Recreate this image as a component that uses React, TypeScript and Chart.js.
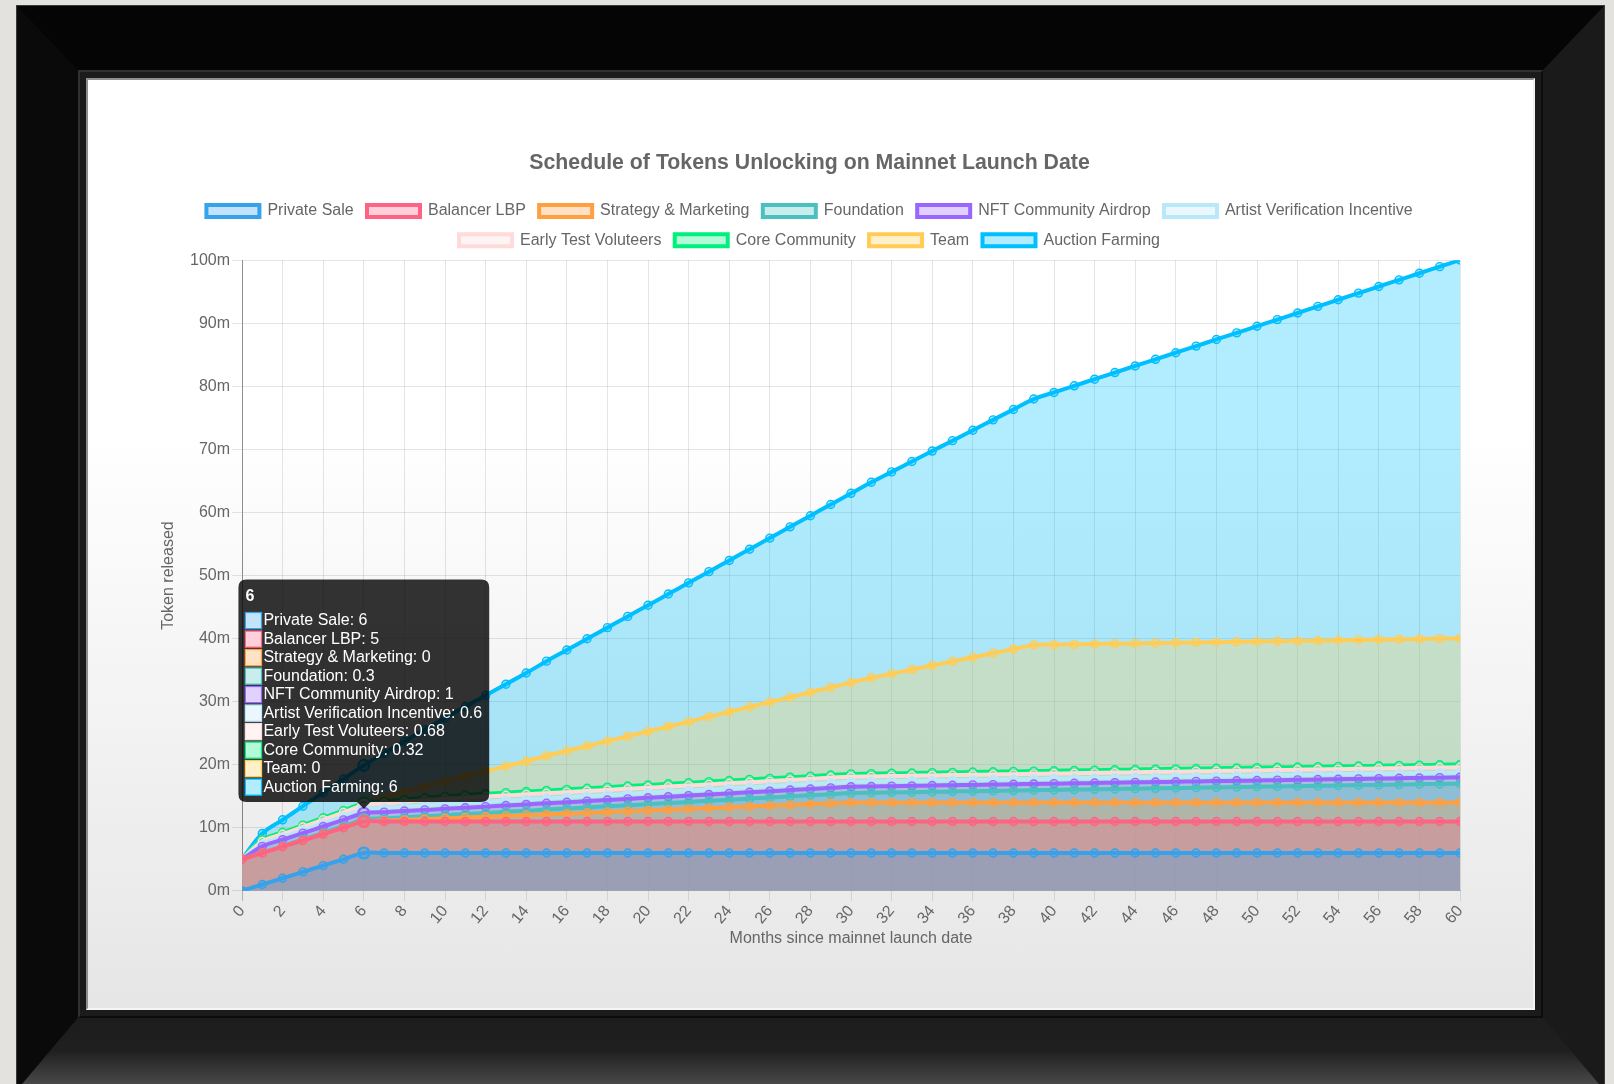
import React, { useEffect, useRef } from "react";
import { Chart, registerables } from "chart.js";

Chart.register(...registerables);

// ---------- data (values in millions of tokens, per series, stacked) ----------
const months = [
  0, 1, 2, 3, 4, 5, 6, 7, 8, 9,
  10, 11, 12, 13, 14, 15, 16, 17, 18, 19,
  20, 21, 22, 23, 24, 25, 26, 27, 28, 29,
  30, 31, 32, 33, 34, 35, 36, 37, 38, 39,
  40, 41, 42, 43, 44, 45, 46, 47, 48, 49,
  50, 51, 52, 53, 54, 55, 56, 57, 58, 59,
  60,
];

const seriesNames = [
  "Private Sale",
  "Balancer LBP",
  "Strategy & Marketing",
  "Foundation",
  "NFT Community Airdrop",
  "Artist Verification Incentive",
  "Early Test Voluteers",
  "Core Community",
  "Team",
  "Auction Farming",
];

const privateSale = [
  0, 1, 2, 3, 4, 5, 6, 6, 6, 6,
  6, 6, 6, 6, 6, 6, 6, 6, 6, 6,
  6, 6, 6, 6, 6, 6, 6, 6, 6, 6,
  6, 6, 6, 6, 6, 6, 6, 6, 6, 6,
  6, 6, 6, 6, 6, 6, 6, 6, 6, 6,
  6, 6, 6, 6, 6, 6, 6, 6, 6, 6,
  6,
];

const balancerLBP = [
  5, 5, 5, 5, 5, 5, 5, 5, 5, 5,
  5, 5, 5, 5, 5, 5, 5, 5, 5, 5,
  5, 5, 5, 5, 5, 5, 5, 5, 5, 5,
  5, 5, 5, 5, 5, 5, 5, 5, 5, 5,
  5, 5, 5, 5, 5, 5, 5, 5, 5, 5,
  5, 5, 5, 5, 5, 5, 5, 5, 5, 5,
  5,
];

const strategyMarketing = [
  0, 0, 0, 0, 0, 0, 0, 0.13, 0.25, 0.38,
  0.5, 0.63, 0.75, 0.88, 1, 1.13, 1.25, 1.38, 1.5, 1.63,
  1.75, 1.88, 2, 2.13, 2.25, 2.38, 2.5, 2.63, 2.75, 2.88,
  3, 3, 3, 3, 3, 3, 3, 3, 3, 3,
  3, 3, 3, 3, 3, 3, 3, 3, 3, 3,
  3, 3, 3, 3, 3, 3, 3, 3, 3, 3,
  3,
];

const foundation = [
  0, 0.05, 0.1, 0.15, 0.2, 0.25, 0.3, 0.35, 0.4, 0.45,
  0.5, 0.55, 0.6, 0.65, 0.7, 0.75, 0.8, 0.85, 0.9, 0.95,
  1, 1.05, 1.1, 1.15, 1.2, 1.25, 1.3, 1.35, 1.4, 1.45,
  1.5, 1.55, 1.6, 1.65, 1.7, 1.75, 1.8, 1.85, 1.9, 1.95,
  2, 2.05, 2.1, 2.15, 2.2, 2.25, 2.3, 2.35, 2.4, 2.45,
  2.5, 2.55, 2.6, 2.65, 2.7, 2.75, 2.8, 2.85, 2.9, 2.95,
  3,
];

const nftCommunityAirdrop = [
  0, 1, 1, 1, 1, 1, 1, 1, 1, 1,
  1, 1, 1, 1, 1, 1, 1, 1, 1, 1,
  1, 1, 1, 1, 1, 1, 1, 1, 1, 1,
  1, 1, 1, 1, 1, 1, 1, 1, 1, 1,
  1, 1, 1, 1, 1, 1, 1, 1, 1, 1,
  1, 1, 1, 1, 1, 1, 1, 1, 1, 1,
  1,
];

const artistVerification = [
  0, 0.35, 0.4, 0.45, 0.5, 0.55, 0.6, 0.65, 0.7, 0.75,
  0.8, 0.8, 0.8, 0.8, 0.8, 0.8, 0.8, 0.8, 0.8, 0.8,
  0.8, 0.8, 0.8, 0.8, 0.8, 0.8, 0.8, 0.8, 0.8, 0.8,
  0.8, 0.8, 0.8, 0.8, 0.8, 0.8, 0.8, 0.8, 0.8, 0.8,
  0.8, 0.8, 0.8, 0.8, 0.8, 0.8, 0.8, 0.8, 0.8, 0.8,
  0.8, 0.8, 0.8, 0.8, 0.8, 0.8, 0.8, 0.8, 0.8, 0.8,
  0.8,
];

const earlyTestVolunteers = [
  0, 0.43, 0.48, 0.53, 0.58, 0.63, 0.68, 0.72, 0.76, 0.8,
  0.8, 0.8, 0.8, 0.8, 0.8, 0.8, 0.8, 0.8, 0.8, 0.8,
  0.8, 0.8, 0.8, 0.8, 0.8, 0.8, 0.8, 0.8, 0.8, 0.8,
  0.8, 0.8, 0.8, 0.8, 0.8, 0.8, 0.8, 0.8, 0.8, 0.8,
  0.8, 0.8, 0.8, 0.8, 0.8, 0.8, 0.8, 0.8, 0.8, 0.8,
  0.8, 0.8, 0.8, 0.8, 0.8, 0.8, 0.8, 0.8, 0.8, 0.8,
  0.8,
];

const coreCommunity = [
  0, 0.27, 0.28, 0.29, 0.3, 0.31, 0.32, 0.34, 0.36, 0.38,
  0.4, 0.42, 0.44, 0.44, 0.44, 0.44, 0.44, 0.44, 0.44, 0.44,
  0.44, 0.44, 0.44, 0.44, 0.44, 0.44, 0.44, 0.44, 0.44, 0.44,
  0.44, 0.44, 0.44, 0.44, 0.44, 0.44, 0.44, 0.44, 0.44, 0.44,
  0.44, 0.44, 0.44, 0.44, 0.44, 0.44, 0.44, 0.44, 0.44, 0.44,
  0.44, 0.44, 0.44, 0.44, 0.44, 0.44, 0.44, 0.44, 0.44, 0.44,
  0.44,
];

const team = [
  0, 0, 0, 0, 0, 0, 0, 0.6, 1.2, 1.8,
  2.4, 3, 3.6, 4.2, 4.8, 5.5, 6.1, 6.7, 7.3, 7.9,
  8.5, 9.1, 9.7, 10.3, 10.9, 11.5, 12.1, 12.7, 13.3, 13.9,
  14.5, 15.2, 15.8, 16.4, 17, 17.6, 18.2, 18.8, 19.4, 20,
  20, 20, 20, 20, 20, 20, 20, 20, 20, 20,
  20, 20, 20, 20, 20, 20, 20, 20, 20, 20,
  20,
];

const auctionFarming = [
  0, 1, 2, 3, 4, 5, 6, 7, 8, 9,
  10, 11, 12, 13, 14, 15, 16, 17, 18, 19,
  20, 21, 22, 23, 24, 25, 26, 27, 28, 29,
  30, 31, 32, 33, 34, 35, 36, 37, 38, 39,
  40, 41, 42, 43, 44, 45, 46, 47, 48, 49,
  50, 51, 52, 53, 54, 55, 56, 57, 58, 59,
  60,
];

const hoveredMonthIndex = 6;

// ---------- styles ----------
const seriesColors: [number, number, number][] = [
  [54, 162, 235],
  [255, 99, 132],
  [255, 159, 64],
  [75, 192, 192],
  [153, 102, 255],
  [185, 232, 250],
  [255, 218, 218],
  [0, 240, 125],
  [255, 205, 86],
  [0, 191, 255],
];

const FONT = "'Liberation Sans', Arial, Helvetica, sans-serif";

const rgb = (c: [number, number, number]) => `rgb(${c[0]}, ${c[1]}, ${c[2]})`;
const rgba = (c: [number, number, number], a: number) =>
  `rgba(${c[0]}, ${c[1]}, ${c[2]}, ${a})`;

function TokenChart() {
  const canvasRef = useRef<HTMLCanvasElement | null>(null);

  useEffect(() => {
    const canvas = canvasRef.current;
    if (!canvas) return;

    Chart.defaults.font.family = FONT;
    Chart.defaults.color = "#666";

    const seriesValues = [
      privateSale,
      balancerLBP,
      strategyMarketing,
      foundation,
      nftCommunityAirdrop,
      artistVerification,
      earlyTestVolunteers,
      coreCommunity,
      team,
      auctionFarming,
    ];

    const datasets = seriesValues.map((values, i) => {
      const c = seriesColors[i];
      return {
        label: seriesNames[i],
        data: values,
        borderColor: rgb(c),
        backgroundColor: rgba(c, 0.3),
        fill: "origin",
        borderWidth: 4,
        tension: 0.4,
        pointRadius: 4,
        pointBorderWidth: 1.4,
        pointBackgroundColor: rgba(c, 0.3),
        pointBorderColor: rgb(c),
        pointHoverRadius: 5.5,
        pointHoverBorderWidth: 2.2,
        pointHoverBackgroundColor: rgba(c, 0.3),
        pointHoverBorderColor: rgb(c),
      };
    });

    const chart = new Chart(canvas, {
      type: "line",
      data: { labels: months, datasets: datasets as any },
      options: {
        responsive: false,
        animation: false,
        devicePixelRatio: 1,
        layout: { padding: { top: 57.5, left: 71, right: 73, bottom: 56 } },
        interaction: { mode: "index", intersect: false },
        plugins: {
          title: {
            display: true,
            text: "Schedule of Tokens Unlocking on Mainnet Launch Date",
            color: "#666",
            font: { family: FONT, size: 21.3, weight: "bold" },
            padding: { top: 13.3, bottom: 13.3 },
          },
          legend: {
            display: true,
            labels: {
              color: "#666",
              font: { family: FONT, size: 16 },
              boxWidth: 53,
              boxHeight: 12,
              padding: 13.3,
            },
          },
          tooltip: {
            enabled: true,
            mode: "index",
            intersect: false,
            position: "average",
            xAlign: "center",
            yAlign: "bottom",
            backgroundColor: "rgba(0,0,0,0.8)",
            titleColor: "#fff",
            titleFont: { family: FONT, size: 16, weight: "bold", lineHeight: 1 },
            titleMarginBottom: 8,
            bodyColor: "#fff",
            bodyFont: { family: FONT, size: 16, lineHeight: 1 },
            bodySpacing: 2.5,
            padding: { top: 9, bottom: 7, left: 7, right: 7 },
            caretSize: 6.7,
            caretPadding: 2.7,
            cornerRadius: 8,
            boxWidth: 16,
            boxHeight: 16,
            multiKeyBackground: "#fff",
          },
        },
        scales: {
          x: {
            type: "linear",
            min: 0,
            max: 60,
            ticks: {
              stepSize: 2,
              autoSkip: false,
              minRotation: 50,
              maxRotation: 50,
              color: "#666",
              font: { family: FONT, size: 16 },
              padding: 1,
            },
            grid: {
              color: (ctx: any) =>
                ctx.tick && ctx.tick.value === 0 ? "rgba(0,0,0,0.25)" : "rgba(0,0,0,0.1)",
              tickLength: 10,
            },
            border: { color: "rgba(0,0,0,0.25)" },
            title: {
              display: true,
              text: "Months since mainnet launch date",
              color: "#666",
              font: { family: FONT, size: 16 },
              padding: { top: 0, bottom: 4 },
            },
          },
          y: {
            stacked: true,
            min: 0,
            max: 100,
            ticks: {
              stepSize: 10,
              color: "#666",
              font: { family: FONT, size: 16 },
              padding: 2,
              callback: (v: any) => `${v}m`,
            },
            grid: { color: "rgba(0,0,0,0.1)", tickLength: 10 },
            border: { color: "rgba(0,0,0,0.25)" },
            title: {
              display: true,
              text: "Token released",
              color: "#666",
              font: { family: FONT, size: 16 },
              padding: { top: 0, bottom: 9.8 },
            },
          },
        },
      } as any,
    });

    // a little extra gap between the legend and the plot area
    const lg: any = (chart as any).legend;
    if (lg) {
      const origFit = lg.fit.bind(lg);
      lg.fit = () => {
        origFit();
        lg.height += 2;
      };
    }
    chart.update();

    const active = seriesValues.map((_, i) => ({ datasetIndex: i, index: hoveredMonthIndex }));
    chart.setActiveElements(active);
    chart.tooltip?.setActiveElements(active, { x: 0, y: 0 });
    chart.update();

    return () => {
      chart.destroy();
    };
  }, []);

  return (
    <canvas
      ref={canvasRef}
      width={1445}
      height={928}
      style={{ position: "absolute", left: 88, top: 80, width: 1445, height: 928 }}
    />
  );
}

export default function App() {
  return (
    <div
      style={{
        position: "fixed",
        left: 0,
        top: 0,
        width: 1614,
        height: 1084,
        overflow: "hidden",
        background: "#e4e2df",
      }}
    >
      {/* outer black frame with mitered borders */}
      <div
        style={{
          position: "absolute",
          left: 17,
          top: 6,
          width: 1587,
          height: 1084,
          boxSizing: "border-box",
          borderStyle: "solid",
          borderTopWidth: 64,
          borderLeftWidth: 61,
          borderRightWidth: 61,
          borderBottomWidth: 72,
          borderTopColor: "#050505",
          borderLeftColor: "#0a0a0a",
          borderRightColor: "#1a1a1a",
          borderBottomColor: "#1d1d1d",
          boxShadow: "0 0 0 1px #3a3a3a",
        }}
      />
      {/* lighter bottom edge of the frame */}
      <div
        style={{
          position: "absolute",
          left: 17,
          top: 1018,
          width: 1587,
          height: 72,
          clipPath: "polygon(61px 0, 1526px 0, 1587px 72px, 0 72px)",
          background: "linear-gradient(to bottom, #1d1d1d 0%, #1f1f1f 45%, #505050 100%)",
        }}
      />
      {/* inner lip */}
      <div
        style={{
          position: "absolute",
          left: 78,
          top: 70,
          width: 1465,
          height: 948,
          boxSizing: "border-box",
          background: "#1b1b1b",
          borderTop: "2px solid #303030",
          borderLeft: "2px solid #303030",
          borderRight: "2px solid #0c0c0c",
          borderBottom: "2px solid #0c0c0c",
        }}
      />
      {/* mat */}
      <div
        style={{
          position: "absolute",
          left: 86,
          top: 78,
          width: 1449,
          height: 932,
          boxSizing: "border-box",
          borderTop: "2px solid #8e8e8e",
          borderLeft: "2px solid #8e8e8e",
          borderRight: "2px solid #f2f2f2",
          borderBottom: "2px solid #f6f6f6",
          background: "linear-gradient(to bottom, #ffffff 0%, #ffffff 38%, #e6e6e6 100%)",
        }}
      />
      <TokenChart />
    </div>
  );
}
